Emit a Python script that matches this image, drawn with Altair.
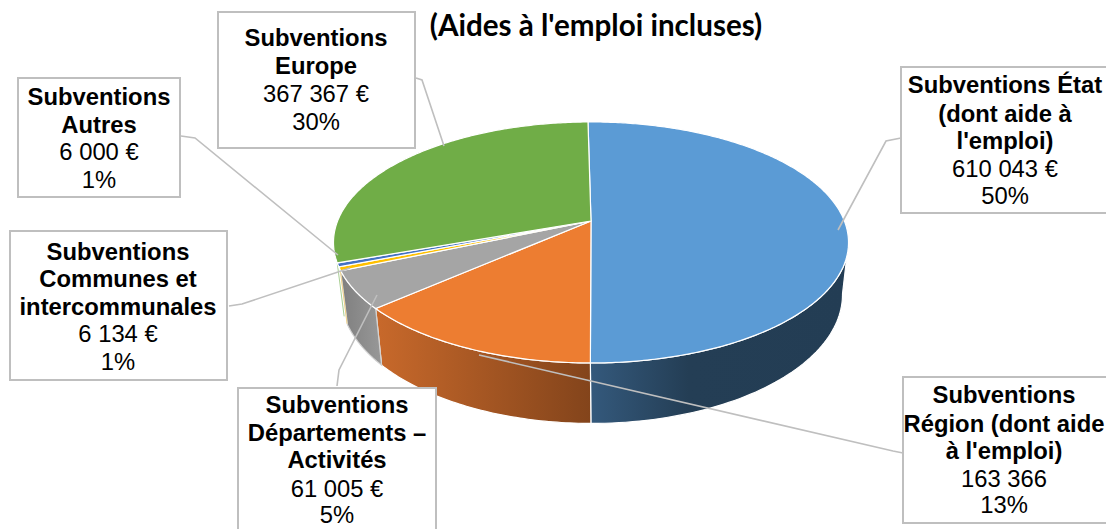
import math
import altair as alt
import pandas as pd

# ---- data ----
names = ["État", "Région", "Départements", "Communes", "Autres", "Europe"]
amounts = [610043, 163366, 61005, 6134, 6000, 367367]
top_colors = ["#5b9bd5", "#ed7d31", "#a5a5a5", "#ffc000", "#4472c4", "#70ad47"]

label_bold = [
    ["Subventions État", "(dont aide à", "l'emploi)"],
    ["Subventions", "Région (dont aide", "à l'emploi)"],
    ["Subventions", "Départements –", "Activités"],
    ["Subventions", "Communes et", "intercommunales"],
    ["Subventions", "Autres"],
    ["Subventions", "Europe"],
]
label_plain = [
    ["610 043 €", "50%"],
    ["163 366", "13%"],
    ["61 005 €", "5%"],
    ["6 134 €", "1%"],
    ["6 000 €", "1%"],
    ["367 367 €", "30%"],
]
title_text = "(Aides à l'emploi incluses)"

# ---- layout (page pixels) ----
OFF = 8
box_rects = [
    (901, 67, 1125, 213), (903, 377, 1125, 523), (238, 388, 436, 545),
    (10, 231, 227, 380), (18, 78, 180, 197), (218, 12, 415, 148),
]
label_x = [1005, 1004, 337, 118, 99, 316]
label_y = [
    [93, 122, 149, 177, 204], [403, 432, 459, 487, 513], [413, 441, 468, 497, 523],
    [260, 287, 315, 342, 370], [105, 133, 160, 188], [46, 74, 102, 130],
]
leaders = [
    [(838, 230), (886, 141), (901, 138)],
    [(479, 355), (893, 451), (903, 453)],
    [(377, 295), (339, 370), (337, 386)],
    [(350, 268), (242, 304), (229, 306)],
    [(338, 255), (195, 138), (181, 136)],
    [(444, 146), (422, 80), (416, 78)],
]

AP_X, AP_Y = 591.0, 221.0   # apex of the perspective disc
A, B, K = 253.4, 116.7, 0.178
START = -0.8
TOP_C = (591.0, 243.0); TOP_R = (257.5, 120.5)
BOT_C = (591.5, 295.0); BOT_R = (251.0, 129.0)


def top_pt(deg):
    t = math.radians(deg)
    u, v = math.sin(t), -math.cos(t)
    d = 1 - K * v
    return (AP_X + A * u / d, AP_Y + B * v / d)


def bot_pt(deg):
    x, y = top_pt(deg)
    return (BOT_C[0] + (x - TOP_C[0]) * BOT_R[0] / TOP_R[0],
            BOT_C[1] + (y - TOP_C[1]) * BOT_R[1] / TOP_R[1])


def sweep(a, b, n=60):
    return [a + (b - a) * i / n for i in range(n + 1)]


def shape(coords, kind="Polygon"):
    geom = coords if kind == "LineString" else [coords]
    return alt.Data(values=[{"type": "Feature", "properties": {},
                             "geometry": {"type": kind, "coordinates": geom}}])


proj = dict(type="identity", scale=1, translate=[-OFF, -OFF])

total = sum(amounts)
edges = [START]
for v in amounts:
    edges.append(edges[-1] + v / total * 360)

layers = []


def h_grad(stops):
    return alt.LinearGradient(
        gradient="linear", x1=0, x2=1, y1=0, y2=0,
        stops=[alt.GradientStop(offset=o, color=c) for o, c in stops])


# side walls
wall_fills = [
    (100, edges[1], h_grad([(0, "#34597c"), (0.38, "#243e55"), (1, "#233d54")]), "#ffffff"),
    (edges[1], edges[2], h_grad([(0, "#c8692b"), (1, "#83441b")]), "#ffffff"),
    (edges[2], edges[3], h_grad([(0, "#7f7f7f"), (1, "#989898")]), "#d0d0d0"),
]
for a, b, fill, edge in wall_fills:
    ang = sweep(a, b)
    poly = [top_pt(t) for t in ang] + [bot_pt(t) for t in reversed(ang)]
    poly.append(poly[0])
    layers.append(alt.Chart(shape(poly)).mark_geoshape(
        fill=fill, stroke=edge, strokeWidth=1.2
    ).project(**proj))

# thin walls of the two tiny slices and the far edge of the green slice
for deg, col in [(edges[3] + 0.4, "#f3d58a"), (edges[5], "#a9cf94")]:
    ln = [top_pt(deg), bot_pt(deg)]
    layers.append(alt.Chart(shape(ln, "LineString")).mark_geoshape(
        filled=False, stroke=col, strokeWidth=1.0).project(**proj))

# top faces
for i, col in enumerate(top_colors):
    ang = sweep(edges[i], edges[i + 1], max(4, int((edges[i + 1] - edges[i]) * 1.5)))
    poly = [(AP_X, AP_Y)] + [top_pt(t) for t in ang] + [(AP_X, AP_Y)]
    layers.append(alt.Chart(shape(poly)).mark_geoshape(
        fill=col, stroke="#ffffff", strokeWidth=1.2).project(**proj))

# leader lines
rows = []
for i, pts in enumerate(leaders):
    for j, (x, y) in enumerate(pts):
        rows.append({"k": i, "o": j, "x": x - OFF, "y": y - OFF})
layers.append(alt.Chart(pd.DataFrame(rows)).mark_line(
    color="#bfbfbf", strokeWidth=1.6, clip=False
).encode(x=alt.X("x:Q", scale=None, axis=None),
         y=alt.Y("y:Q", scale=None, axis=None),
         detail="k:N", order="o:Q"))

# boxes
rects = pd.DataFrame([{"x": a - OFF, "y": b - OFF, "x2": c - OFF, "y2": d - OFF}
                      for a, b, c, d in box_rects])
layers.append(alt.Chart(rects).mark_rect(
    fill="#ffffff", stroke="#bfbfbf", strokeWidth=2
).encode(x=alt.X("x:Q", scale=None, axis=None), x2="x2:Q",
         y=alt.Y("y:Q", scale=None, axis=None), y2="y2:Q"))

# labels
bold_rows, plain_rows = [], []
for i in range(len(names)):
    n = len(label_bold[i])
    for j, t in enumerate(label_bold[i]):
        bold_rows.append({"x": label_x[i] - OFF, "y": label_y[i][j] - OFF, "t": t})
    for j, t in enumerate(label_plain[i]):
        plain_rows.append({"x": label_x[i] - OFF, "y": label_y[i][n + j] - OFF, "t": t})
for df, weight in [(bold_rows, "bold"), (plain_rows, "normal")]:
    layers.append(alt.Chart(pd.DataFrame(df)).mark_text(
        font="Liberation Sans", fontSize=23.8, fontWeight=weight, color="#000000",
        align="center", baseline="alphabetic"
    ).encode(x=alt.X("x:Q", scale=None, axis=None),
             y=alt.Y("y:Q", scale=None, axis=None), text="t:N"))

# chart title
layers.append(alt.Chart(pd.DataFrame([{"x": 596 - OFF, "y": 36 - OFF, "t": title_text}])).mark_text(
    font="Lato", fontSize=29.6, fontWeight="bold", color="#000000",
    align="center", baseline="alphabetic"
).encode(x=alt.X("x:Q", scale=None, axis=None),
         y=alt.Y("y:Q", scale=None, axis=None), text="t:N"))

chart = alt.layer(*layers).properties(
    width=1098, height=521, padding=0, autosize=alt.AutoSizeParams(type="none")
).configure_view(strokeWidth=0)

chart.save("out.html", embed_options={"renderer": "svg", "actions": False})
